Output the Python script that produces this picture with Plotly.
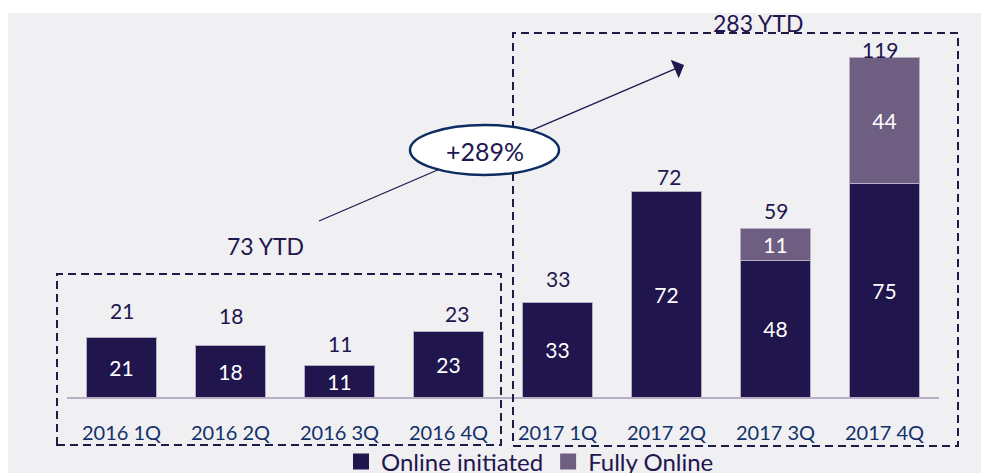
import plotly.graph_objects as go

# ---- data ----
quarters = ["2016 1Q", "2016 2Q", "2016 3Q", "2016 4Q",
            "2017 1Q", "2017 2Q", "2017 3Q", "2017 4Q"]
online_initiated = [21, 18, 11, 23, 33, 72, 48, 75]
fully_online = [0, 0, 0, 0, 0, 0, 11, 44]
totals = [21, 18, 11, 23, 33, 72, 59, 119]
ytd_2016_label = "73 YTD"
ytd_2017_label = "283 YTD"
growth_label = "+289%"

# ---- style ----
NAVY = "#21154e"
PURPLE = "#6e5f82"
TEXT = "#22164f"
TICK = "#12306a"
BG = "#f0eff2"
FONT = "Lato"

# pixel nudges of the total labels (yshift above bar top, xshift)
label_lift = [27, 30, 22, 18, 24, 15, 18, 8]
label_dx = [0, 0, 0, 8, 0, 2, 0, -4]

# page body adds an 8px offset
W, H = 981, 465
ML, MR, MT, MB = 59, 50, 5, 76
PW, PH = W - ML - MR, H - MT - MB
OFF = 8


def px(x):  # screen x -> paper
    return (x - OFF - ML) / PW


def py(y):  # screen y -> paper
    return (H - MB - (y - OFF)) / PH


x_idx = list(range(len(quarters)))

fig = go.Figure()
fig.add_trace(go.Bar(
    x=x_idx, y=online_initiated, name="Online initiated",
    marker=dict(color=NAVY, line=dict(color="#b7aec6", width=1)),
    text=[str(v) if v else "" for v in online_initiated],
    textposition="inside", insidetextanchor="middle", constraintext="none",
    textangle=0, textfont=dict(color="white", size=21, family=FONT),
    showlegend=False, hoverinfo="skip",
))
fig.add_trace(go.Bar(
    x=x_idx, y=fully_online, name="Fully Online",
    marker=dict(color=PURPLE, line=dict(color="#b7aec6", width=1)),
    text=[str(v) if v else "" for v in fully_online],
    textposition="inside", insidetextanchor="middle", constraintext="none",
    textangle=0, textfont=dict(color="white", size=21, family=FONT),
    showlegend=False, hoverinfo="skip",
))
# legend entries
for nm, col in [("Online initiated", NAVY), ("Fully Online", PURPLE)]:
    fig.add_trace(go.Scatter(
        x=[None], y=[None], mode="markers", name=nm,
        marker=dict(symbol="square", size=17, color=col),
        showlegend=True,
    ))

shapes = [
    # white strip at top of figure
    dict(type="rect", xref="paper", yref="paper",
         x0=px(0), x1=px(W + 20), y0=py(13), y1=py(0),
         fillcolor="white", line=dict(width=0), layer="below"),
    # 2016 box
    dict(type="rect", xref="paper", yref="paper",
         x0=px(57), x1=px(501), y0=py(445), y1=py(274),
         line=dict(color="#1e1b47", width=2, dash="8px,5px")),
    # 2017 box
    dict(type="rect", xref="paper", yref="paper",
         x0=px(513), x1=px(958), y0=py(446), y1=py(33),
         line=dict(color="#1e1b47", width=2, dash="8px,5px")),
    # lower part of growth arrow
    dict(type="line", xref="paper", yref="paper",
         x0=px(319), y0=py(221), x1=px(484), y1=py(150),
         line=dict(color=TEXT, width=1.3)),
    # ellipse
    dict(type="circle", xref="paper", yref="paper",
         x0=px(410), x1=px(559), y0=py(175), y1=py(125),
         fillcolor="white", line=dict(color="#0d2d62", width=2.5)),
]

annotations = []
for i, t in enumerate(totals):
    annotations.append(dict(
        x=i, y=t, xref="x", yref="y", text=str(t), showarrow=False,
        yshift=label_lift[i], xshift=label_dx[i],
        xanchor="center", yanchor="middle",
        font=dict(color=TEXT, size=21, family=FONT),
    ))
annotations += [
    dict(x=px(265), y=py(246), xref="paper", yref="paper", text=ytd_2016_label,
         xanchor="center", yanchor="middle",
         showarrow=False, font=dict(color=TEXT, size=23, family=FONT)),
    dict(x=px(758), y=py(23), xref="paper", yref="paper", text=ytd_2017_label,
         xanchor="center", yanchor="middle",
         showarrow=False, font=dict(color=TEXT, size=23, family=FONT)),
    dict(x=px(484.5), y=py(151), xref="paper", yref="paper", text=growth_label,
         xanchor="center", yanchor="middle",
         showarrow=False, font=dict(color=TEXT, size=25, family=FONT)),
    dict(x=px(684), y=py(65), xref="paper", yref="paper", text="",
         showarrow=True, ax=530 - 684, ay=131 - 65, arrowhead=1,
         arrowsize=2.6, arrowwidth=1.3, arrowcolor=TEXT, standoff=0),
]

fig.update_layout(
    width=W, height=H,
    margin=dict(l=ML, r=MR, t=MT, b=MB, autoexpand=False),
    paper_bgcolor=BG, plot_bgcolor="rgba(0,0,0,0)",
    barmode="stack", bargap=0.358,
    font=dict(family=FONT, color=TEXT),
    shapes=shapes, annotations=annotations,
    legend=dict(orientation="h", x=px(530), xanchor="center",
                y=py(462), yanchor="middle", bgcolor="rgba(0,0,0,0)",
                font=dict(size=24, color=TEXT, family=FONT),
                itemsizing="trace", traceorder="normal"),
    showlegend=True,
)
fig.update_xaxes(
    range=[-0.5, 7.5], tickmode="array", tickvals=x_idx, ticktext=quarters,
    showline=True, linecolor="#b8aec6", linewidth=2, showgrid=False,
    zeroline=False, ticks="", ticklabelstandoff=17,
    tickfont=dict(size=20, color=TICK, family=FONT), fixedrange=True,
)
fig.update_yaxes(range=[0, PH / 2.85], visible=False, showgrid=False,
                 zeroline=False, fixedrange=True)

fig.write_html("out.html")
